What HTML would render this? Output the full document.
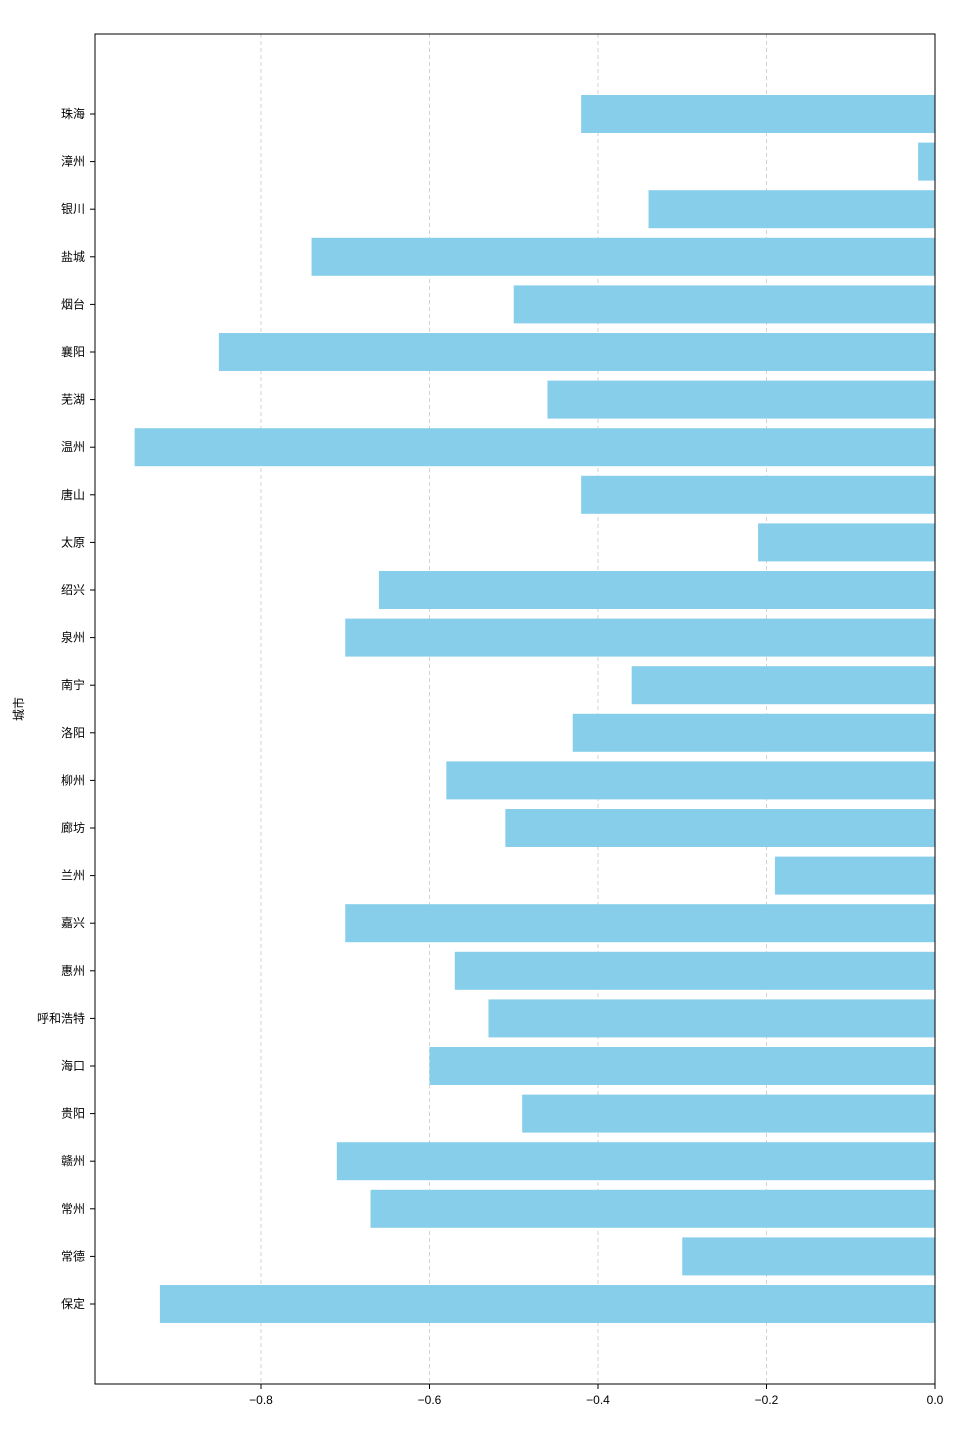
<!DOCTYPE html>
<html><head><meta charset="utf-8"><style>
html,body{margin:0;padding:0;background:#fff;}
svg{display:block;font-family:"Liberation Sans","Noto Sans CJK SC",sans-serif;}
</style></head><body>
<svg id="chart" width="960" height="1440" viewBox="0 0 960 1440">
<g id="grid"></g>
<g id="bars"></g>
<rect x="95" y="34" width="840" height="1350" fill="none" stroke="#000" stroke-width="1"/>
<g id="xticks"></g>
<g id="yticks"></g>
<text x="23" y="709" font-size="12" fill="#000" text-anchor="middle" transform="rotate(-90 23 709)">城市</text>
</svg>
<script>
const categories = ["珠海","漳州","银川","盐城","烟台","襄阳","芜湖","温州","唐山","太原","绍兴","泉州","南宁","洛阳","柳州","廊坊","兰州","嘉兴","惠州","呼和浩特","海口","贵阳","赣州","常州","常德","保定"];
const values = [-0.42,-0.02,-0.34,-0.74,-0.50,-0.85,-0.46,-0.95,-0.42,-0.21,-0.66,-0.70,-0.36,-0.43,-0.58,-0.51,-0.19,-0.70,-0.57,-0.53,-0.60,-0.49,-0.71,-0.67,-0.30,-0.92];
const tickValues = [-0.8,-0.6,-0.4,-0.2,0.0];
const tickLabels = ["−0.8","−0.6","−0.4","−0.2","0.0"];

const NS = "http://www.w3.org/2000/svg";
const X0 = 935, PX = 842.5;
function xs(v){ return X0 + v * PX; }
function ys(i){ return 114 + i * 47.6; }
const barH = 38;
function mk(tag, attrs, parent){ const e=document.createElementNS(NS,tag); for(const k in attrs) e.setAttribute(k,attrs[k]); parent.appendChild(e); return e; }

const grid=document.getElementById('grid'), bars=document.getElementById('bars'),
 xt=document.getElementById('xticks'), yt=document.getElementById('yticks');

tickValues.forEach((v,i)=>{
  const x=xs(v);
  if(i<tickValues.length-1){
    const g=mk('line',{x1:x,x2:x,y1:34,y2:1384,stroke:'#c8c8c8','stroke-width':0.8,'stroke-dasharray':'4,3'},grid);
    
    
  }
  const t=mk('line',{x1:x,x2:x,y1:1384,y2:1389,stroke:'#000'},xt);
  
  
  const l=mk('text',{x:x,y:1404,'font-size':12,'text-anchor':'middle',fill:'#000'},xt);
  l.textContent=tickLabels[i];
  
  
});

categories.forEach((c,i)=>{
  const y=ys(i), v=values[i];
  const x1=xs(v), x2=xs(0);
  const r=mk('rect',{x:Math.min(x1,x2),y:y-barH/2,width:Math.abs(x2-x1),height:barH,fill:'#87ceeb'},bars);
  
  
  const t=mk('line',{x1:90,x2:95,y1:y,y2:y,stroke:'#000'},yt);
  
  
  const l=mk('text',{x:85,y:y+4,'font-size':12,'text-anchor':'end',fill:'#000'},yt);
  l.textContent=c;
  
  
});
</script>
</body></html>
